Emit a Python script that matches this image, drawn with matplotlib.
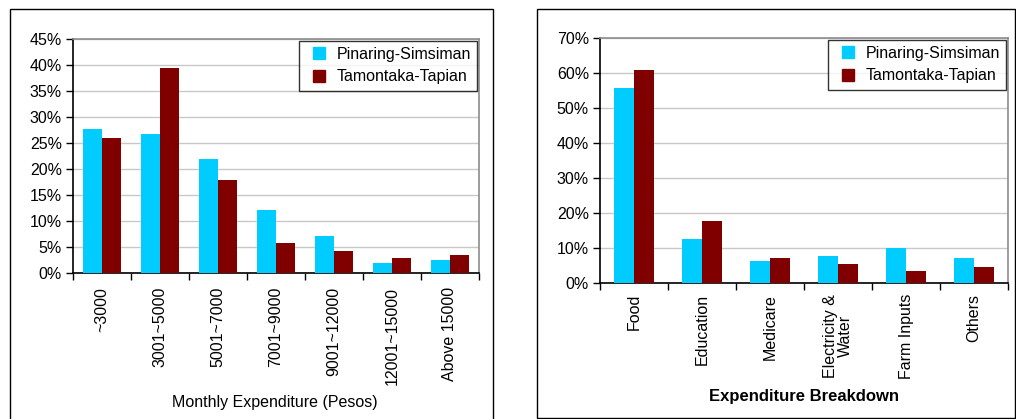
import matplotlib
matplotlib.use("Agg")
import matplotlib.pyplot as plt
import numpy as np
from matplotlib.lines import Line2D
from matplotlib.patches import Rectangle
from matplotlib.ticker import FixedLocator, PercentFormatter

plt.rcParams['font.family'] = ['Liberation Sans', 'DejaVu Sans']

series_names = ["Pinaring-Simsiman", "Tamontaka-Tapian"]
colors = ["#00CCFF", "#800000"]

income_cats = ["~3000", "3001~5000", "5001~7000", "7001~9000",
               "9001~12000", "12001~15000", "Above 15000"]
income_pinaring = [27.7, 26.7, 21.9, 12.1, 7.1, 1.9, 2.5]
income_tamontaka = [26.0, 39.4, 17.9, 5.8, 4.2, 2.9, 3.5]

expense_cats = ["Food", "Education", "Medicare", "Electricity &\nWater",
                "Farm Inputs", "Others"]
expense_pinaring = [55.7, 12.6, 6.3, 7.7, 10.0, 7.1]
expense_tamontaka = [60.9, 17.7, 7.1, 5.4, 3.4, 4.6]

W, H = 1016, 419
fig = plt.figure(figsize=(W / 100, H / 100), dpi=100)


def px_axes(x0, y0, x1, y1):
    return fig.add_axes([x0 / W, 1 - y1 / H, (x1 - x0) / W, (y1 - y0) / H])


def panel_frame(x0, y0, x1, y1):
    fig.patches.append(Rectangle((x0 / W, 1 - y1 / H), (x1 - x0) / W, (y1 - y0) / H,
                                 transform=fig.transFigure, fill=False,
                                 edgecolor="black", linewidth=1.0))


def draw_bars(ax, cats, a, b, ymax, step, bar_w, label_pad):
    n = len(cats)
    x = np.arange(n)
    ax.bar(x - bar_w / 2, a, bar_w, color=colors[0], zorder=3)
    ax.bar(x + bar_w / 2, b, bar_w, color=colors[1], zorder=3)
    ax.set_xlim(-0.5, n - 0.5)
    ax.set_ylim(0, ymax)
    ax.yaxis.set_major_locator(FixedLocator(np.arange(0, ymax + 0.1, step)))
    ax.yaxis.set_major_formatter(PercentFormatter(decimals=0))
    ax.yaxis.grid(True, color="#C8C8C8", linewidth=1.0, zorder=0)
    ax.set_axisbelow(True)
    # category boundary ticks, labels centred under groups
    ax.set_xticks(np.arange(-0.5, n, 1.0))
    ax.set_xticklabels([])
    ax.set_xticks(x, minor=True)
    ax.set_xticklabels(cats, minor=True, rotation=90, fontsize=11.5,
                       linespacing=1.05, va="top", ha="center")
    ax.tick_params(axis="x", which="major", length=5, width=1, direction="out")
    ax.tick_params(axis="x", which="minor", length=0, pad=label_pad)
    ax.tick_params(axis="y", length=5, width=1, direction="out", labelsize=11.5, pad=3)
    for side in ("left", "bottom"):
        ax.spines[side].set_color("black")
        ax.spines[side].set_linewidth(1.2)
    for side in ("top", "right"):
        ax.spines[side].set_color("#8C8C8C")
        ax.spines[side].set_linewidth(1.2)
    handles = [Line2D([], [], linestyle="none", marker="s", markersize=8.5,
                      markerfacecolor=c, markeredgecolor=c) for c in colors]
    leg = ax.legend(handles, series_names, loc="upper right", fontsize=11.5,
                    frameon=True, fancybox=False, edgecolor="black",
                    handlelength=1.7, handletextpad=0.25, borderpad=0.4,
                    labelspacing=0.45, borderaxespad=0.1)
    leg.get_frame().set_linewidth(1.0)
    return ax


panel_frame(10, 9, 493, 425)
panel_frame(537, 9, 1015, 418)

ax1 = px_axes(73, 39, 479, 273)
draw_bars(ax1, income_cats, income_pinaring, income_tamontaka, 45, 5, 0.32, 10)
fig.text(275 / W, 1 - 402 / H, "Monthly Expenditure (Pesos)", fontsize=11.5,
         ha="center", va="center")

ax2 = px_axes(600, 38, 1008, 283)
draw_bars(ax2, expense_cats, expense_pinaring, expense_tamontaka, 70, 10, 0.29, 8)
fig.text(804 / W, 1 - 396 / H, "Expenditure Breakdown", fontsize=12,
         fontweight="bold", ha="center", va="center")

fig.savefig("out.png", dpi=100)
